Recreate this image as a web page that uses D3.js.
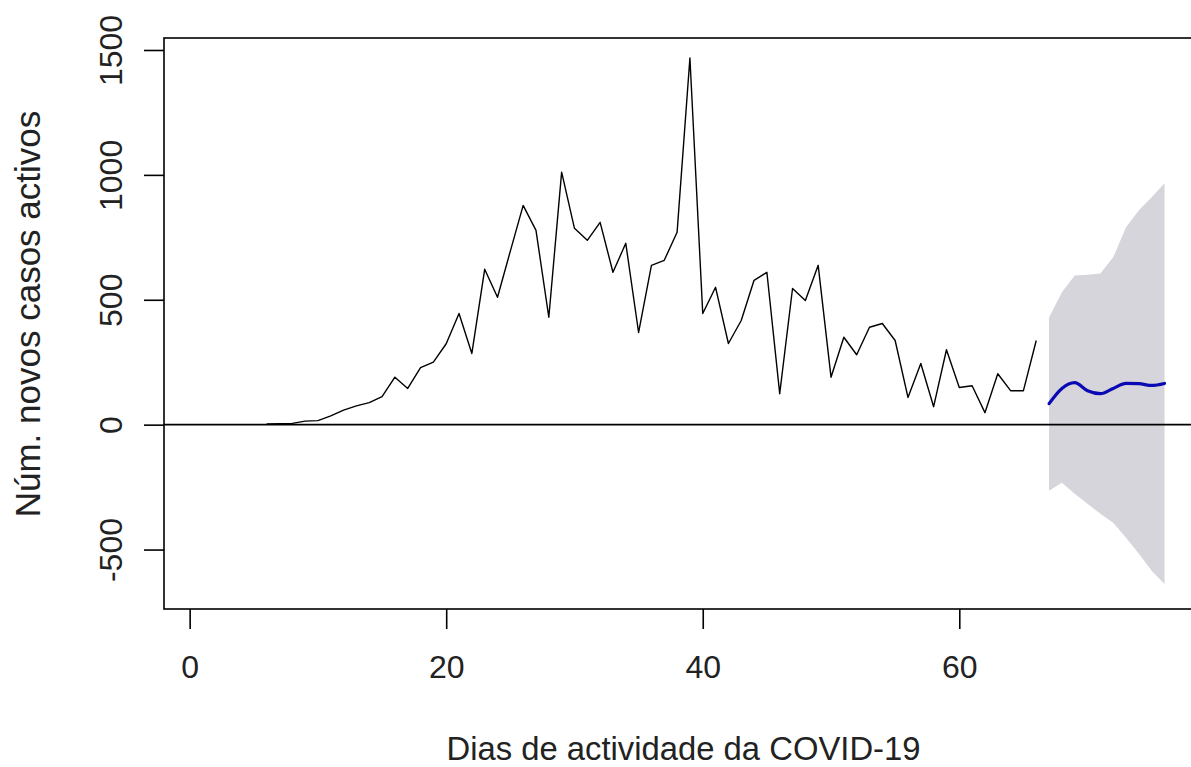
<!DOCTYPE html>
<html>
<head>
<meta charset="utf-8">
<script src="https://cdn.jsdelivr.net/npm/d3@7"></script>
<style>
  html, body { margin: 0; padding: 0; background: #fff; }
  svg { display: block; }
  text { font-family: "Liberation Sans", Arial, sans-serif; fill: #222; }
</style>
</head>
<body>
<svg id="chart" width="1191" height="767"></svg>
<script>
// Observed series: day index and number of new active cases
const obsDays = [6,7,8,9,10,11,12,13,14,15,16,17,18,19,20,21,22,23,24,25,26,27,28,29,30,31,32,33,34,35,36,37,38,39,40,41,42,43,44,45,46,47,48,49,50,51,52,53,54,55,56,57,58,59,60,61,62,63,64,65,66];
const obsValues = [3,4,5,14,16,35,58,75,88,112,190,145,228,250,324,445,285,622,510,695,878,778,430,1011,786,738,810,610,726,369,638,658,770,1468,445,550,325,417,578,610,124,545,497,638,190,350,280,390,405,337,109,245,72,300,149,156,48,204,136,136,337];

// Forecast
const fcDays = [67,68,69,70,71,72,73,74,75,76];
const fcMean = [84,145,168,136,124,145,165,164,157,165];
const fcUpper = [429,530,597,600,605,670,790,858,910,966];
const fcLower = [-265,-233,-277,-317,-357,-393,-453,-517,-585,-638];

const xTicks = [0,20,40,60];
const yTicks = [-500,0,500,1000,1500];

const xLabel = "Dias de actividade da COVID-19";
const yLabel = "Núm. novos casos activos";

const svg = d3.select("#chart");
const L = 164, R = 1203, T = 38, B = 609;

const x = d3.scaleLinear().domain([-2, 79]).range([L, R]);
const y = d3.scaleLinear().domain([-738, 1548]).range([B, T]);

const obs = obsDays.map((d, i) => ({d, v: obsValues[i]}));
const fc = fcDays.map((d, i) => ({d, m: fcMean[i], lo: fcLower[i], hi: fcUpper[i]}));

const fmt = d => String(d); // plain hyphen for negatives, as in the original

// Prediction band
svg.append("path")
  .datum(fc)
  .attr("fill", "#d5d5db")
  .attr("stroke", "none")
  .attr("d", d3.area().x(p => x(p.d)).y0(p => y(p.lo)).y1(p => y(p.hi)));

// zero line
svg.append("line")
  .attr("x1", L).attr("x2", R)
  .attr("y1", y(0)).attr("y2", y(0))
  .attr("stroke", "#000").attr("stroke-width", 1.6);

// observed line
svg.append("path")
  .datum(obs)
  .attr("fill", "none")
  .attr("stroke", "#000")
  .attr("stroke-width", 1.4)
  .attr("stroke-linejoin", "round")
  .attr("d", d3.line().x(p => x(p.d)).y(p => y(p.v)));

// forecast mean
svg.append("path")
  .datum(fc)
  .attr("fill", "none")
  .attr("stroke", "#0a0ab4")
  .attr("stroke-width", 3.2)
  .attr("stroke-linejoin", "round")
  .attr("stroke-linecap", "round")
  .attr("d", d3.line().curve(d3.curveMonotoneX).x(p => x(p.d)).y(p => y(p.m)));

// box
svg.append("rect")
  .attr("x", L).attr("y", T)
  .attr("width", R - L).attr("height", B - T)
  .attr("fill", "none").attr("stroke", "#000").attr("stroke-width", 1.6);

// x axis
const xAxis = d3.axisBottom(x).tickValues(xTicks).tickSize(20).tickPadding(26).tickFormat(fmt);
const gx = svg.append("g").attr("transform", `translate(0,${B})`).call(xAxis);
gx.select(".domain").remove();
gx.selectAll(".tick line").attr("stroke", "#000").attr("stroke-width", 1.6);
gx.selectAll(".tick text")
  .attr("font-size", 32)
  .attr("font-family", "Liberation Sans, Arial, sans-serif")
  .attr("fill", "#222");

// y axis
const yAxis = d3.axisLeft(y).tickValues(yTicks).tickSize(20).tickPadding(0).tickFormat(fmt);
const gy = svg.append("g").attr("transform", `translate(${L},0)`).call(yAxis);
gy.select(".domain").remove();
gy.selectAll(".tick line").attr("stroke", "#000").attr("stroke-width", 1.6);
gy.selectAll(".tick text")
  .attr("font-size", 32)
  .attr("font-family", "Liberation Sans, Arial, sans-serif")
  .attr("fill", "#222")
  .attr("x", null).attr("dy", null)
  .attr("text-anchor", "middle")
  .attr("transform", "translate(-42,0) rotate(-90)");

// axis titles
svg.append("text")
  .attr("x", (L + R) / 2).attr("y", 760)
  .attr("text-anchor", "middle")
  .attr("font-size", 32.8)
  .text(xLabel);

svg.append("text")
  .attr("transform", `translate(40,314) rotate(-90)`)
  .attr("text-anchor", "middle")
  .attr("font-size", 35)
  .text(yLabel);
</script>
</body>
</html>
